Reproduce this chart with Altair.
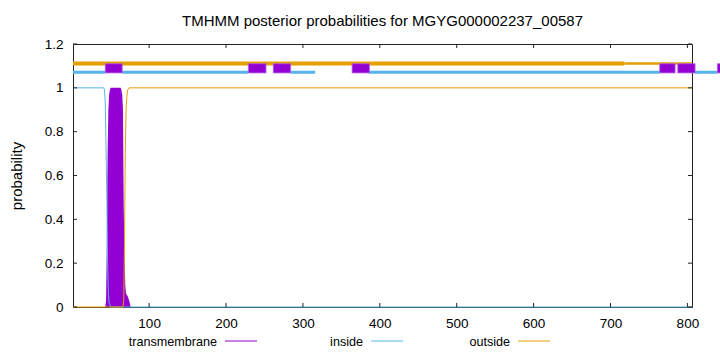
import altair as alt
import pandas as pd

TITLE = "TMHMM posterior probabilities for MGYG000002237_00587"
Y_TITLE = "probability"
SERIES = ["transmembrane", "inside", "outside"]
COLORS = {"transmembrane": "#9400D3", "inside": "#56B4E9", "outside": "#E69F00"}
X_MIN, X_MAX = 1, 806

# posterior probabilities (key points)
tm_pos = [1, 43, 44, 45, 46, 47, 48, 49, 50, 63, 64, 65, 66, 67, 68, 69, 70, 72, 74, 76, 806]
tm_val = [0, 0, 0.03, 0.3, 0.7, 0.9, 0.97, 0.99, 1.0, 1.0, 0.99, 0.97, 0.9, 0.45, 0.25, 0.1, 0.06, 0.05, 0.03, 0, 0]

in_pos = [1, 41, 42, 43, 44, 45, 46, 47, 48, 50, 806]
in_val = [1, 1, 0.99, 0.93, 0.72, 0.5, 0.2, 0.06, 0.02, 0, 0]

out_pos = [1, 66, 67, 68, 69, 70, 71, 72, 74, 806]
out_val = [0, 0, 0.03, 0.3, 0.7, 0.9, 0.96, 0.99, 1, 1]

x_ticks = [100, 200, 300, 400, 500, 600, 700, 800]
y_ticks = [0, 0.2, 0.4, 0.6, 0.8, 1, 1.2]

# predicted topology bars drawn above the curves
outside_bar_start = [1]
outside_bar_end = [718]
outside_bar2_start = [718]
outside_bar2_end = [806]
inside_bar_start = [1, 65, 284, 386, 810]
inside_bar_end = [43, 229, 316, 764, 839]
tm_box_start = [43, 229, 261.5, 364, 764, 787.5, 839]
tm_box_end = [65, 252, 284, 386.5, 784, 810, 862]
OUT_LEVEL, IN_LEVEL = 1.111, 1.071
BOX_LOW, BOX_HIGH = 1.068, 1.11

FONT = "Liberation Sans"
W, H = 619, 263

tm_df = pd.DataFrame({"pos": tm_pos, "p": tm_val})
in_df = pd.DataFrame({"pos": in_pos, "p": in_val})
out_df = pd.DataFrame({"pos": out_pos, "p": out_val})

xs = alt.Scale(domain=[X_MIN, X_MAX], nice=False, zero=False)
ys = alt.Scale(domain=[0, 1.2], nice=False, zero=False)

x_axis = alt.Axis(values=x_ticks, ticks=False, tickSize=0, domain=False, grid=False,
                  labelFont=FONT, labelFontSize=13.5, labelColor="#000", labelPadding=9,
                  labelFlush=False)
y_axis = alt.Axis(values=y_ticks, format="~g", ticks=False, tickSize=0, domain=False, grid=False,
                  labelFont=FONT, labelFontSize=13.5, labelColor="#000", labelPadding=10,
                  labelFlush=False, titleFont=FONT, titleFontSize=15,
                  titleFontWeight="normal", titleColor="#000", titlePadding=20)


def X(field):
    return alt.X(field, scale=xs, axis=x_axis, title=None)


def Y(field=None, datum=None):
    if datum is not None:
        return alt.Y(datum=datum, scale=ys, axis=y_axis, title=Y_TITLE)
    return alt.Y(field, scale=ys, axis=y_axis, title=Y_TITLE)


tm_area = alt.Chart(tm_df).mark_area(color=COLORS["transmembrane"], opacity=1).encode(
    x=X("pos:Q"), y=Y("p:Q"))
in_line = alt.Chart(in_df).mark_line(color=COLORS["inside"], strokeWidth=1).encode(
    x=X("pos:Q"), y=Y("p:Q"))
out_line = alt.Chart(out_df).mark_line(color=COLORS["outside"], strokeWidth=1).encode(
    x=X("pos:Q"), y=Y("p:Q"))


def seg_layer(starts, ends, level, color, width):
    df = pd.DataFrame({"s": starts, "e": ends})
    return alt.Chart(df).mark_rule(color=color, strokeWidth=width, clip=False).encode(
        x=X("s:Q"), x2="e:Q", y=Y(datum=level))


out_bar = seg_layer(outside_bar_start, outside_bar_end, OUT_LEVEL, COLORS["outside"], 4)
out_bar2 = seg_layer(outside_bar2_start, outside_bar2_end, OUT_LEVEL, COLORS["outside"], 2.5)
in_bar = seg_layer(inside_bar_start, inside_bar_end, IN_LEVEL, COLORS["inside"], 3)

box_df = pd.DataFrame({"s": tm_box_start, "e": tm_box_end})
tm_boxes = alt.Chart(box_df).mark_rect(color=COLORS["transmembrane"], clip=False,
                                       stroke="#b45ee6", strokeWidth=0.8).encode(
    x=X("s:Q"), x2="e:Q", y=Y(datum=BOX_LOW), y2=alt.Y2(datum=BOX_HIGH))

# inward tick marks on all four sides
xt_df = pd.DataFrame({"t": x_ticks})
yt_df = pd.DataFrame({"t": y_ticks})
TICK = 4
tick_color = "#222"
xt_bottom = alt.Chart(xt_df).mark_rule(color=tick_color, strokeWidth=1).encode(
    x=X("t:Q"), y=alt.value(H), y2=alt.value(H - TICK))
xt_top = alt.Chart(xt_df).mark_rule(color=tick_color, strokeWidth=1).encode(
    x=X("t:Q"), y=alt.value(0), y2=alt.value(TICK))
yt_left = alt.Chart(yt_df).mark_rule(color=tick_color, strokeWidth=1).encode(
    y=Y("t:Q"), x=alt.value(0), x2=alt.value(TICK))
yt_right = alt.Chart(yt_df).mark_rule(color=tick_color, strokeWidth=1).encode(
    y=Y("t:Q"), x=alt.value(W), x2=alt.value(W - TICK))

# title text
one = alt.Data(values=[{"k": 0}])
title_layer = alt.Chart(one).mark_text(font=FONT, fontSize=15, color="#000", align="center",
                                       baseline="alphabetic").encode(
    x=alt.value(W / 2), y=alt.value(-18), text=alt.value(TITLE))

# legend (gnuplot style: label then sample line)
legend_layers = []
legend_text_right = {"transmembrane": 144, "inside": 290, "outside": 437}
for name in SERIES:
    r = legend_text_right[name]
    legend_layers.append(
        alt.Chart(one).mark_text(font=FONT, fontSize=12.6, color="#000", align="right",
                                 baseline="alphabetic").encode(
            x=alt.value(r), y=alt.value(302), text=alt.value(name)))
    legend_layers.append(
        alt.Chart(one).mark_rule(color=COLORS[name], strokeWidth=1).encode(
            x=alt.value(r + 8), x2=alt.value(r + 40), y=alt.value(297)))

chart = alt.layer(
    tm_area, in_line, out_line, out_bar, out_bar2, in_bar, tm_boxes,
    xt_bottom, xt_top, yt_left, yt_right, title_layer, *legend_layers
).properties(
    width=W, height=H,
    autosize=alt.AutoSizeParams(type="none"),
    padding={"left": 73, "top": 44, "right": 720 - 73 - W, "bottom": 352 - 44 - H},
    background="white",
).configure_view(stroke="#222", strokeWidth=1)

chart.save("out.html", embed_options={"renderer": "svg", "actions": False})
